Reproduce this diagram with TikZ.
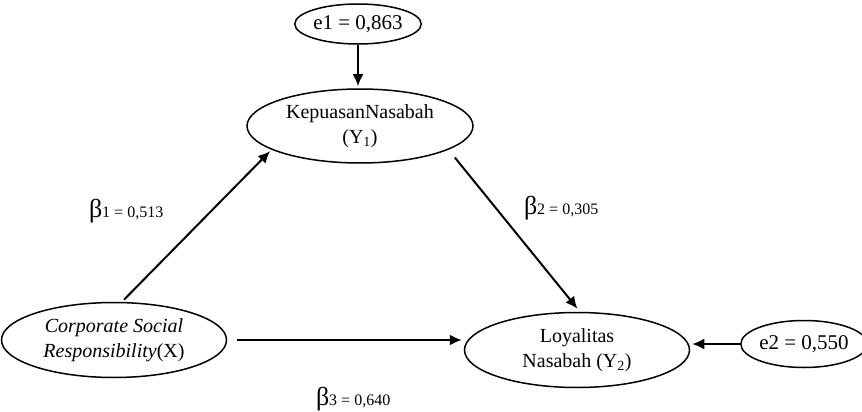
\documentclass[tikz,border=0pt]{standalone}
\usepackage{fontspec}
\setmainfont{Liberation Serif}
\usetikzlibrary{arrows.meta,shapes.geometric}

\newcommand{\coefbeta}[2]{{\fontsize{26}{26}\selectfont β}{\fontsize{16}{16}\selectfont #1 = #2}}

\begin{document}
\begin{tikzpicture}[x=1pt,y=-1pt,>={Latex[length=12pt,width=11pt]},shorten >=2pt,line width=2pt,
    latent/.style={ellipse,draw,line width=1.5pt,fill=white,minimum width=225pt,minimum height=75pt,
        inner sep=0pt,align=center,font=\fontsize{20}{25}\selectfont},
    error/.style={ellipse,draw,line width=1.5pt,fill=white,minimum width=118pt,minimum height=40pt,
        inner sep=0pt,font=\fontsize{21}{25}\selectfont},
    coef/.style={anchor=base west,inner sep=0pt}]

    \useasboundingbox (0,0) rectangle (862,412);

    \node[error] (e1) at (358,24) {e1 = 0,863};
    \node[latent,minimum width=226pt,minimum height=74pt] (kep) at (360,126) {KepuasanNasabah\\(Y\textsubscript{1})};
    \node[latent] (csr) at (114,340) {\textit{Corporate Social}\\\textit{Responsibility}(X)};
    \node[latent] (loy) at (577,350) {Loyalitas\\Nasabah (Y\textsubscript{2})};
    \node[error,minimum width=112pt,minimum height=47pt] (e2) at (804,344) {e2 = 0,550};

    \path[->] (e1.south) edge (e1.south |- kep.north)
              ([xshift=8pt]csr.north) edge [shorten <=3pt] (kep.195)
              (kep.-15) edge [shorten <=10pt,shorten >=4pt] ([xshift=3pt]loy.north)
              ([xshift=10pt]csr.east) edge (csr.east -| loy.west)
              (e2.west) edge (e2.west -| loy.east);

    % path coefficients
    \node[coef] (b1) at (88,217) {\coefbeta{1}{0,513}};
    \node[coef] (b2) at (523,214) {\coefbeta{2}{0,305}};
    \node[coef] (b3) at (315,405) {\coefbeta{3}{0,640}};

\end{tikzpicture}
\end{document}
